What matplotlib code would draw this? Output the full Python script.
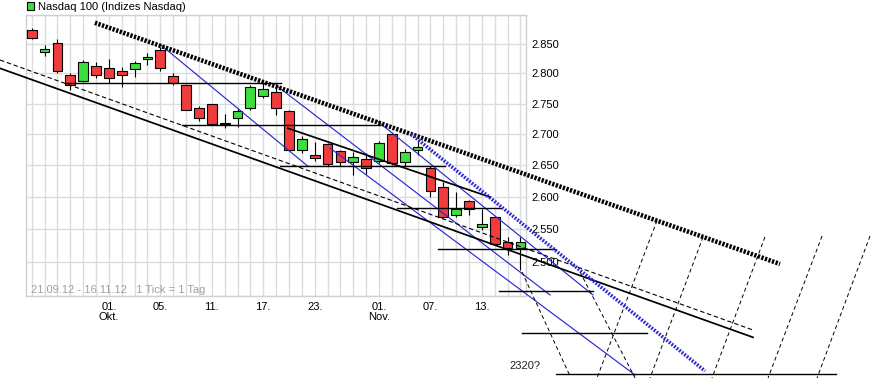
"""Nasdaq 100 daily candles 21.09.12 - 16.11.12 with trend channel drawings."""
import matplotlib
matplotlib.use("Agg")
import numpy as np
import pandas as pd
from matplotlib import pyplot as plt
from matplotlib.patches import Rectangle
from matplotlib.ticker import NullLocator

plt.rcParams["font.family"] = ["Liberation Sans", "DejaVu Sans"]

# trading days (exchange closed 29./30.10. - hurricane Sandy)
dates = [d for d in pd.bdate_range("2012-09-21", "2012-11-16")
         if d.strftime("%m-%d") not in ("10-29", "10-30")]

opens = [2874, 2836, 2851, 2797, 2788, 2812, 2810, 2805, 2808, 2824, 2839, 2795, 2780,
         2742, 2749, 2718, 2727, 2743, 2762, 2769, 2738, 2675, 2667, 2684, 2673, 2655,
         2660, 2657, 2700, 2655, 2674, 2645, 2616, 2572, 2594, 2554, 2569, 2530, 2521]
highs = [2878, 2848, 2858, 2801, 2823, 2820, 2825, 2811, 2821, 2834, 2844, 2800, 2782,
         2746, 2750, 2733, 2742, 2781, 2785, 2784, 2740, 2697, 2688, 2686, 2675, 2671,
         2669, 2689, 2701, 2676, 2690, 2648, 2624, 2608, 2596, 2582, 2571, 2538, 2538]
lows = [2858, 2830, 2801, 2772, 2786, 2793, 2784, 2777, 2794, 2814, 2804, 2780, 2739,
        2722, 2715, 2710, 2711, 2739, 2759, 2731, 2673, 2669, 2656, 2649, 2648, 2635,
        2636, 2654, 2650, 2648, 2667, 2600, 2567, 2569, 2572, 2549, 2526, 2511, 2489]
closes = [2861, 2842, 2804, 2781, 2820, 2797, 2792, 2797, 2817, 2827, 2810, 2784, 2740,
          2726, 2717, 2717, 2737, 2777, 2774, 2742, 2675, 2692, 2662, 2652, 2655, 2663,
          2645, 2685, 2653, 2671, 2679, 2609, 2569, 2581, 2581, 2558, 2528, 2521, 2530]

price_levels = [2450, 2500, 2550, 2600, 2650, 2700, 2750, 2800, 2850, 2900]
labelled_levels = [2500, 2550, 2600, 2650, 2700, 2750, 2800, 2850]
label_dates = ["2012-10-01", "2012-10-05", "2012-10-11", "2012-10-17", "2012-10-23",
               "2012-11-01", "2012-11-07", "2012-11-13"]
month_names = {10: "Okt.", 11: "Nov."}

# drawn trend lines: (day index from, price from, day index to, price to)
resistance = [(4.91, 2886.5, 58.18, 2497.5)]
blue_dotted = [(29.49, 2700.1, 52.35, 2342.2)]
blue_thin = [(9.97, 2849.4, 21.48, 2648.3),
             (19.14, 2777.8, 40.30, 2451.5),
             (26.84, 2721.7, 43.64, 2451.5),
             (23.19, 2677.5, 46.91, 2336.6)]
horizontals = [(2.58, 19.38, 2783.5), (11.66, 27.08, 2714.2), (19.30, 32.13, 2648.3),
               (28.40, 36.48, 2582.4), (31.59, 40.68, 2519.6), (36.33, 43.64, 2457.4),
               (38.10, 47.82, 2395.8), (40.76, 62.54, 2338.0)]
channel_solid = [(-2.47, 2808.7, 56.08, 2390.0), (19.92, 2709.4, 35.63, 2599.9)]
channel_dashed = [(-2.47, 2822.7, 56.08, 2400.5)]
fan = [(38.12, 2485.5, 41.85, 2335.2), (48.62, 2563.5, 43.95, 2332.4),
       (52.20, 2538.3, 48.07, 2332.4), (57.01, 2538.3, 52.89, 2332.4),
       (61.45, 2539.8, 57.25, 2332.4), (65.18, 2539.8, 61.06, 2332.4),
       (42.63, 2485.5, 46.91, 2332.4)]
target_label = (38.35, 2349.0, "2320?")

W, H = 872, 379
fig = plt.figure(figsize=(W / 100, H / 100), dpi=100)
ax = fig.add_axes([25.7 / W, 1 - 296 / H, (526 - 25.7) / W, (296 - 15) / H])

x = np.arange(len(dates))
o, h, l, c = map(np.asarray, (opens, highs, lows, closes))
up = c > o
ax.vlines(x, l, h, color="black", lw=0.8, zorder=2)
ax.bar(x, np.maximum(np.abs(c - o), 0.6), bottom=np.minimum(o, c), width=0.76,
       color=np.where(up, "#3ce03c", "#f03c3c"), edgecolor="black", lw=0.8, zorder=3)

blue = "#2a2ad0"
for x0, p0, x1, p1 in resistance:
    ax.plot([x0, x1], [p0, p1], color="black", lw=3.3, ls=(0, (0.5, 0.32)),
            dash_capstyle="butt", clip_on=False, zorder=5)
for x0, p0, x1, p1 in blue_dotted:
    ax.plot([x0, x1], [p0, p1], color=blue, lw=2.6, ls=(0, (0.5, 0.4)),
            dash_capstyle="butt", clip_on=False, zorder=5)
for x0, p0, x1, p1 in blue_thin:
    ax.plot([x0, x1], [p0, p1], color=blue, lw=0.85, clip_on=False, zorder=4)
for x0, x1, p in horizontals:
    ax.plot([x0, x1], [p, p], color="black", lw=1.0, clip_on=False, zorder=4)
for x0, p0, x1, p1 in channel_solid:
    ax.plot([x0, x1], [p0, p1], color="black", lw=1.25, clip_on=False, zorder=4)
for x0, p0, x1, p1 in channel_dashed:
    ax.plot([x0, x1], [p0, p1], color="black", lw=0.8, ls=(0, (4, 2.5)), clip_on=False, zorder=4)
for x0, p0, x1, p1 in fan:
    ax.plot([x0, x1], [p0, p1], color="black", lw=0.7, ls=(0, (4, 3)), clip_on=False, zorder=4)
ax.text(target_label[0], target_label[1], target_label[2], fontsize=8, color="#222222",
        ha="center", va="center", clip_on=False)

# axes
ax.set_yscale("log")
ax.set_ylim(price_levels[0], price_levels[-1])
ax.set_xlim(-0.47, 38.43)
ax.set_yticks(price_levels)
ax.set_yticklabels([f"{v:,.0f}".replace(",", ".") if v in labelled_levels else "" for v in price_levels])
ax.yaxis.set_minor_locator(NullLocator())
ax.yaxis.tick_right()
date_index = {d.strftime("%Y-%m-%d"): i for i, d in enumerate(dates)}
xlabels = [""] * len(dates)
for s in label_dates:
    d = pd.Timestamp(s)
    xlabels[date_index[s]] = f"{d.day:02d}." + (f"\n{month_names[d.month]}" if d.day == 1 else "")
ax.set_xticks(x)
ax.set_xticklabels(xlabels, linespacing=1.05)
ax.xaxis.set_minor_locator(NullLocator())
ax.tick_params(axis="both", length=0, labelsize=8, colors="black")
ax.tick_params(axis="y", pad=3.6)
ax.tick_params(axis="x", pad=4)
ax.grid(True, color="#dcdcdc", lw=1.0)
ax.set_axisbelow(True)
for sp in ax.spines.values():
    sp.set_color("#d0d0d0")
    sp.set_linewidth(1.0)

fig.text(31 / W, 1 - 290 / H, "21.09.12 - 16.11.12   1 Tick = 1 Tag", fontsize=8,
         color="#a0a0a0", va="center")
fig.patches.append(Rectangle((27 / W, 1 - 9.5 / H), 7 / W, 7 / H, transform=fig.transFigure,
                             facecolor="#3ce03c", edgecolor="black", lw=0.8))
fig.text(38 / W, 1 - 6.5 / H, "Nasdaq 100 (Indizes Nasdaq)", fontsize=8, va="center")

fig.savefig("out.png", dpi=100)
